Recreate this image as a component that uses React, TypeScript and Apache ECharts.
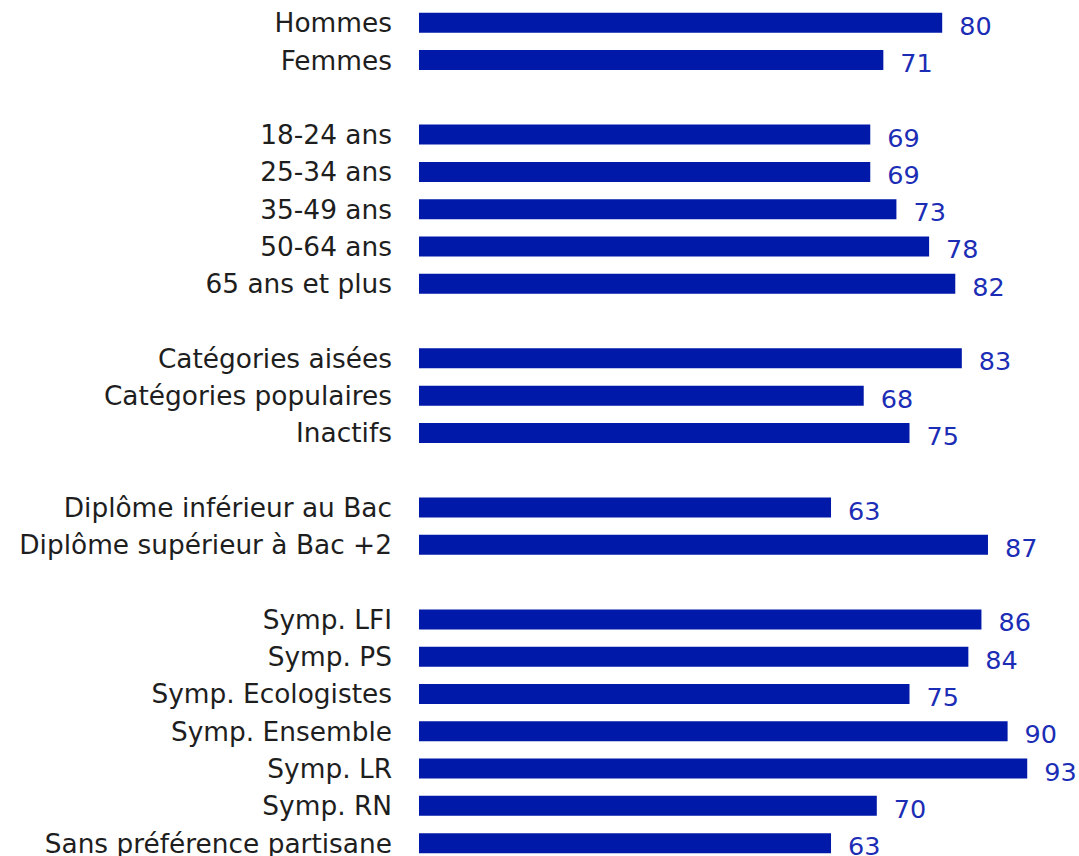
import React, { useEffect, useRef } from "react";
import * as echarts from "echarts";

const categories: string[] = [
  "Hommes",
  "Femmes",
  " ",
  "18-24 ans",
  "25-34 ans",
  "35-49 ans",
  "50-64 ans",
  "65 ans et plus",
  "  ",
  "Catégories aisées",
  "Catégories populaires",
  "Inactifs",
  "   ",
  "Diplôme inférieur au Bac",
  "Diplôme supérieur à Bac +2",
  "    ",
  "Symp. LFI",
  "Symp. PS",
  "Symp. Ecologistes",
  "Symp. Ensemble",
  "Symp. LR",
  "Symp. RN",
  "Sans préférence partisane",
];

const values: (number | null)[] = [
  80, 71, null,
  69, 69, 73, 78, 82, null,
  83, 68, 75, null,
  63, 87, null,
  86, 84, 75, 90, 93, 70, 63,
];

const BAR_COLOR = "#0019a8";
const LABEL_COLOR = "#1c2db5";
const TEXT_COLOR = "#1e1e1e";
const FONT = "'DejaVu Sans', sans-serif";

export default function App() {
  const ref = useRef<HTMLDivElement>(null);
  useEffect(() => {
    if (!ref.current) return;
    const chart = echarts.init(ref.current, undefined, { renderer: "svg" });
    chart.setOption({
      animation: false,
      grid: { left: 419, top: 4.1, width: 654, height: 857.7, containLabel: false },
      xAxis: {
        type: "value",
        min: 0,
        max: 100,
        show: false,
      },
      yAxis: {
        type: "category",
        data: categories,
        inverse: true,
        axisLine: { show: false },
        axisTick: { show: false },
        axisLabel: {
          margin: 27,
          fontSize: 26.4,
          color: TEXT_COLOR,
          fontFamily: FONT,
        },
      },
      series: [
        {
          type: "bar",
          data: values,
          barWidth: 20,
          itemStyle: { color: BAR_COLOR },
          label: {
            show: true,
            position: "right",
            distance: 17,
            offset: [0, 3],
            fontSize: 25.5,
            color: LABEL_COLOR,
            fontFamily: FONT,
          },
        },
      ],
    });
    return () => chart.dispose();
  }, []);
  return (
    <div
      style={{
        position: "absolute",
        left: 0,
        top: 0,
        width: 1079,
        height: 856,
        overflow: "hidden",
      }}
    >
      <div ref={ref} style={{ width: 1079, height: 880 }} />
    </div>
  );
}
